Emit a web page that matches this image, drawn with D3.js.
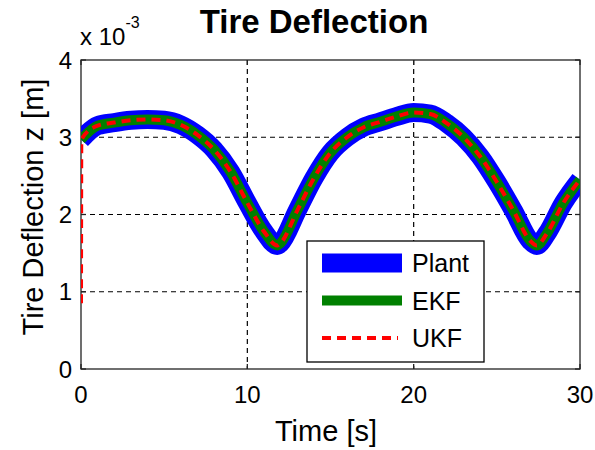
<!DOCTYPE html>
<head>
    <meta charset="utf-8">
    <title>Tire Deflection</title>
    <script type="text/javascript" src="https://d3js.org/d3.v7.min.js"></script>
    <style>
        body { margin: 0; background: #fff; }
        text { font-family: "Liberation Sans", Arial, sans-serif; fill: #000; }
    </style>
</head>
<body>
<div id="container"></div>
<script>
    //------------------------------DATA------------------------------//
    // tire deflection z, in units of 1e-3 m
    const timeS = [0, 1, 2, 3, 4, 5, 6, 7, 8, 9, 10, 11, 11.8, 12, 13, 14, 15, 16, 17, 18, 19, 20,
        21, 22, 23, 24, 25, 26, 27, 27.4, 28, 29, 30];
    const plant = [2.97, 3.15, 3.19, 3.22, 3.23, 3.22, 3.16, 3.03, 2.84, 2.55, 2.15, 1.78, 1.60, 1.63,
        2.05, 2.47, 2.80, 3.00, 3.13, 3.20, 3.27, 3.32, 3.30, 3.18, 3.00, 2.75, 2.42, 2.05, 1.66, 1.60,
        1.75, 2.15, 2.45];
    const ekf = [2.97, 3.15, 3.19, 3.22, 3.23, 3.22, 3.16, 3.03, 2.84, 2.55, 2.15, 1.78, 1.60, 1.63,
        2.05, 2.47, 2.80, 3.00, 3.13, 3.20, 3.27, 3.32, 3.30, 3.18, 3.00, 2.75, 2.42, 2.05, 1.66, 1.60,
        1.75, 2.15, 2.45];
    // UKF starts from a wrong initial guess and jumps onto the curve
    const ukfTime = [0, 0.02, 1, 2, 3, 4, 5, 6, 7, 8, 9, 10, 11, 11.8, 12, 13, 14, 15, 16, 17, 18, 19, 20,
        21, 22, 23, 24, 25, 26, 27, 27.4, 28, 29, 30];
    const ukf = [0.85, 2.97, 3.15, 3.19, 3.22, 3.23, 3.22, 3.16, 3.03, 2.84, 2.55, 2.15, 1.78, 1.60, 1.63,
        2.05, 2.47, 2.80, 3.00, 3.13, 3.20, 3.27, 3.32, 3.30, 3.18, 3.00, 2.75, 2.42, 2.05, 1.66, 1.60,
        1.75, 2.15, 2.45];
    const xTicks = [0, 10, 20, 30];
    const yTicks = [0, 1, 2, 3, 4];
    const legendNames = ["Plant", "EKF", "UKF"];

    //-----------------------------SVG-------------------------------//
    const width = 595;
    const height = 450;
    const margin = {top: 60, right: 15, bottom: 81, left: 81};

    const svg = d3.select("div#container").append("svg")
        .attr("width", width)
        .attr("height", height);

    //----------------------------SCALES-----------------------------//
    const xScale = d3.scaleLinear().domain([0, 30]).range([margin.left, width - margin.right]);
    const yScale = d3.scaleLinear().domain([0, 4]).range([height - margin.bottom, margin.top]);

    // curves are clipped to the axes box, like matlab does
    svg.append("defs").append("clipPath").attr("id", "plotclip")
        .append("rect")
        .attr("x", xScale(0)).attr("y", yScale(4))
        .attr("width", xScale(30) - xScale(0)).attr("height", yScale(0) - yScale(4));

    //-----------------------------GRID------------------------------//
    const grid = svg.append("g").attr("class", "grid")
        .attr("stroke", "#000").attr("stroke-width", 1.2).attr("stroke-dasharray", "5,4");
    grid.selectAll("line.gx").data(xTicks.slice(1, -1)).enter().append("line")
        .attr("x1", d => xScale(d)).attr("x2", d => xScale(d))
        .attr("y1", yScale(4)).attr("y2", yScale(0));
    grid.selectAll("line.gy").data(yTicks.slice(1, -1)).enter().append("line")
        .attr("x1", xScale(0)).attr("x2", xScale(30))
        .attr("y1", d => yScale(d)).attr("y2", d => yScale(d));

    //----------------------------LINES------------------------------//
    const line = d3.line()
        .x(d => xScale(d[0]))
        .y(d => yScale(d[1]))
        .curve(d3.curveMonotoneX);

    const plantPts = timeS.map((t, i) => [t, plant[i]]);
    const ekfPts = timeS.map((t, i) => [t, ekf[i]]);
    const ukfPts = ukfTime.map((t, i) => [t, ukf[i]]);

    // box and ticks under the curves
    const ax = svg.append("g").attr("stroke", "#222").attr("stroke-width", 1.3).attr("fill", "none");
    ax.append("rect")
        .attr("x", xScale(0)).attr("y", yScale(4))
        .attr("width", xScale(30) - xScale(0)).attr("height", yScale(0) - yScale(4));
    xTicks.forEach(d => {
        ax.append("line").attr("x1", xScale(d)).attr("x2", xScale(d))
            .attr("y1", yScale(0)).attr("y2", yScale(0) - 5);
        ax.append("line").attr("x1", xScale(d)).attr("x2", xScale(d))
            .attr("y1", yScale(4)).attr("y2", yScale(4) + 5);
    });
    yTicks.forEach(d => {
        ax.append("line").attr("x1", xScale(0)).attr("x2", xScale(0) + 5)
            .attr("y1", yScale(d)).attr("y2", yScale(d));
        ax.append("line").attr("x1", xScale(30)).attr("x2", xScale(30) - 5)
            .attr("y1", yScale(d)).attr("y2", yScale(d));
    });

    const series = [
        {name: "Plant", pts: plantPts, color: "#0000ff", w: 19, dash: null},
        {name: "EKF", pts: ekfPts, color: "#008000", w: 10, dash: null},
        {name: "UKF", pts: ukfPts, color: "#ff0000", w: 4, dash: "9,6"}
    ];

    svg.append("g").attr("clip-path", "url(#plotclip)")
        .selectAll("path.series").data(series).enter().append("path")
        .attr("class", "series")
        .attr("d", d => line(d.pts))
        .attr("fill", "none")
        .attr("stroke", d => d.color)
        .attr("stroke-width", d => d.w)
        .attr("stroke-linejoin", "round")
        .attr("stroke-dasharray", d => d.dash);

    //----------------------------LABELS-----------------------------//
    svg.selectAll("text.xt").data(xTicks).enter().append("text")
        .attr("x", d => xScale(d)).attr("y", yScale(0) + 34)
        .attr("text-anchor", "middle").style("font-size", "24px")
        .text(d => d);
    svg.selectAll("text.yt").data(yTicks).enter().append("text")
        .attr("x", xScale(0) - 9).attr("y", d => yScale(d) + 8.5)
        .attr("text-anchor", "end").style("font-size", "24px")
        .text(d => d);

    const expo = svg.append("text").attr("x", 80).attr("y", 45).style("font-size", "24px");
    expo.append("tspan").text("x 10");
    expo.append("tspan").attr("dy", -17).style("font-size", "16px").text("-3");

    svg.append("text")
        .attr("x", 314).attr("y", 33)
        .attr("text-anchor", "middle")
        .style("font-size", "33px").style("font-weight", "bold")
        .text("Tire Deflection");

    svg.append("text")
        .attr("x", 326).attr("y", 441)
        .attr("text-anchor", "middle").style("font-size", "29px")
        .text("Time [s]");

    svg.append("text")
        .attr("transform", "translate(43, 207) rotate(-90)")
        .attr("text-anchor", "middle").style("font-size", "29px")
        .text("Tire Deflection z [m]");

    //----------------------------LEGEND-----------------------------//
    const legend = svg.append("g");
    legend.append("rect")
        .attr("x", 307).attr("y", 241).attr("width", 177).attr("height", 121)
        .attr("fill", "#fff").attr("stroke", "#000").attr("stroke-width", 1.3);
    const rows = legend.selectAll("g.row").data(series).enter().append("g")
        .attr("transform", (d, i) => `translate(0, ${263 + i * 37.5})`);
    rows.append("line")
        .attr("x1", 322).attr("x2", d => d.dash ? 398 : 402)
        .attr("y1", 0).attr("y2", 0)
        .attr("stroke", d => d.color)
        .attr("stroke-width", d => d.w)
        .attr("stroke-dasharray", d => d.dash);
    rows.append("text")
        .attr("x", 412).attr("y", 9)
        .style("font-size", "25px")
        .text((d, i) => legendNames[i]);
</script>
</body>
